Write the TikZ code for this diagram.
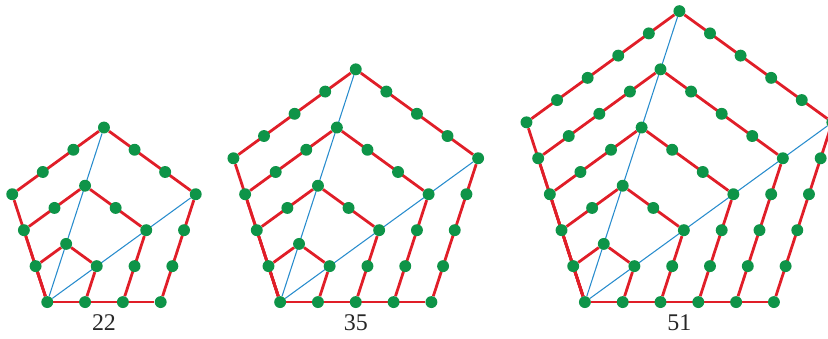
\documentclass[tikz,border=0pt]{standalone}
\usepackage{fontspec}
\setmainfont{Liberation Serif}
\usetikzlibrary{calc,backgrounds}
\definecolor{pentRed}{RGB}{224,30,40}
\definecolor{pentGreen}{RGB}{14,148,72}
\definecolor{pentBlue}{RGB}{40,140,205}
\begin{document}
\begin{tikzpicture}[
  dotnode/.style={circle, fill=pentGreen, inner sep=0pt, minimum size=0.315cm},
  edgeline/.style={draw=pentRed, line width=2.1pt},
  spoke/.style={draw=pentBlue, line width=0.8pt},
  numlabel/.style={font=\fontsize{18}{20}\selectfont, text=black!85}
]
\useasboundingbox (0,0) rectangle (21.9,8.94);
\clip (0,0) rectangle (21.9,8.94);
\foreach \fig/\ax/\n/\val in {a/1.25/3/22, b/7.41/4/35, c/15.47/5/51}{
  \node[dotnode] (\fig-0) at (\ax,0.95) {};
  \foreach \k in {1,...,\n}{
    % corners of the k-th pentagon
    \node[dotnode] (\fig-\k-1) at ($(\fig-0)+(\k,0)$) {};
    \node[dotnode] (\fig-\k-2) at ($(\fig-0)+(\k*1.309,\k*.951)$) {};
    \node[dotnode] (\fig-\k-3) at ($(\fig-0)+(\k*.5,\k*1.539)$) {};
    \node[dotnode] (\fig-\k-4) at ($(\fig-0)+(-\k*.309,\k*.951)$) {};
    % dots along the three free sides
    \foreach \sa/\sb in {1/2,2/3,3/4}{
      \foreach \i in {1,...,\k}{
        \ifnum\i<\k
          \node[dotnode] (\fig-\k-\sa-\i) at ($(\fig-\k-\sa)!\i/\k!(\fig-\k-\sb)$) {};
        \fi
      }
    }
    \begin{scope}[on background layer]
      \draw[edgeline] (\fig-0) -- (\fig-\k-1);
      \draw[edgeline] (\fig-\k-1) -- (\fig-\k-2);
      \draw[edgeline] (\fig-\k-2) -- (\fig-\k-3);
      \draw[edgeline] (\fig-\k-3) -- (\fig-\k-4);
      \draw[edgeline] (\fig-\k-4) -- (\fig-0);
    \end{scope}
  }
  \begin{scope}[on background layer]
    \draw[spoke] (\fig-0) -- (\fig-\n-2);
    \draw[spoke] (\fig-0) -- (\fig-\n-3);
  \end{scope}
  \node[numlabel] (\fig-label) at ($(\fig-0)+(\n/2,-0.55)$) {\val};
}
\end{tikzpicture}
\end{document}
